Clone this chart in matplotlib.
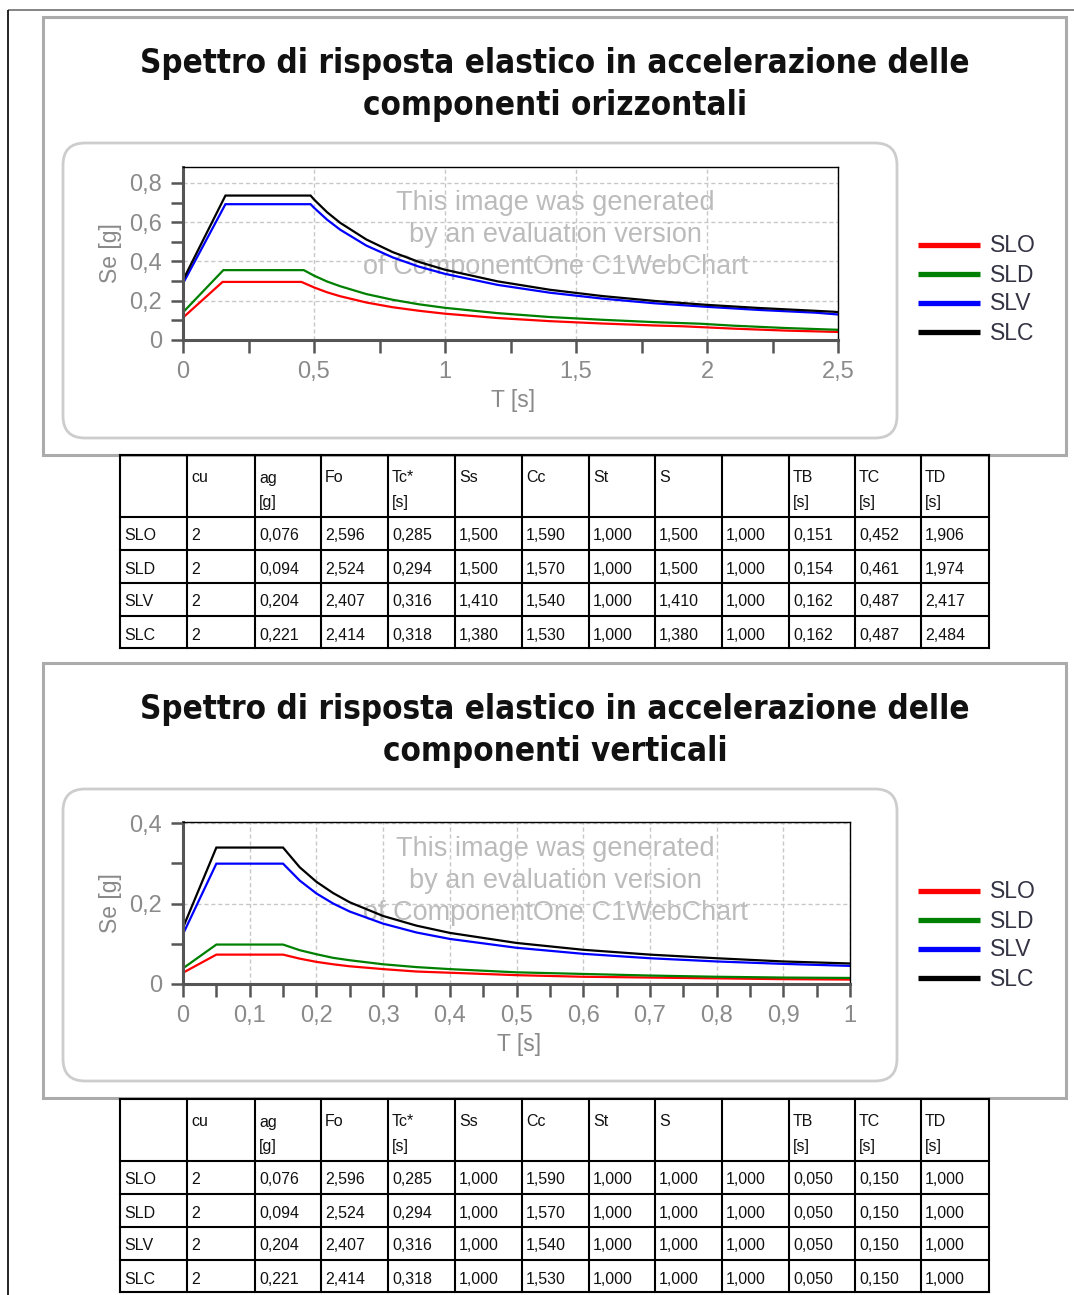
import matplotlib
matplotlib.use("Agg")
import matplotlib.pyplot as plt
from matplotlib.patches import FancyBboxPatch, Rectangle
from matplotlib.font_manager import FontProperties
from matplotlib.ticker import MultipleLocator, FuncFormatter

# ---------------- data ----------------
series_names = ["SLO", "SLD", "SLV", "SLC"]
series_colors = ["#ff0000", "#008000", "#0000ff", "#000000"]

# horizontal components (T [s], Se [g])
T_h_SLO = [0, 0.151, 0.452, 0.5, 0.55, 0.6, 0.7, 0.8, 0.9, 1.0, 1.2, 1.4, 1.6, 1.8, 1.906, 2.1, 2.3, 2.5]
Se_h_SLO = [0.114, 0.296, 0.296, 0.268, 0.243, 0.223, 0.191, 0.167, 0.149, 0.134, 0.112, 0.096, 0.084, 0.074, 0.070, 0.058, 0.048, 0.041]
T_h_SLD = [0, 0.154, 0.461, 0.5, 0.55, 0.6, 0.7, 0.8, 0.9, 1.0, 1.2, 1.4, 1.6, 1.8, 1.974, 2.1, 2.3, 2.5]
Se_h_SLD = [0.141, 0.356, 0.356, 0.328, 0.298, 0.274, 0.234, 0.205, 0.182, 0.164, 0.137, 0.117, 0.103, 0.091, 0.083, 0.073, 0.061, 0.052]
T_h_SLV = [0, 0.162, 0.487, 0.5, 0.55, 0.6, 0.7, 0.8, 0.9, 1.0, 1.2, 1.4, 1.6, 1.8, 2.0, 2.2, 2.417, 2.5]
Se_h_SLV = [0.288, 0.692, 0.692, 0.674, 0.613, 0.562, 0.481, 0.421, 0.374, 0.337, 0.281, 0.241, 0.211, 0.187, 0.169, 0.153, 0.139, 0.130]
T_h_SLC = [0, 0.162, 0.487, 0.5, 0.55, 0.6, 0.7, 0.8, 0.9, 1.0, 1.2, 1.4, 1.6, 1.8, 2.0, 2.2, 2.484, 2.5]
Se_h_SLC = [0.305, 0.736, 0.736, 0.716, 0.651, 0.597, 0.512, 0.448, 0.398, 0.358, 0.299, 0.256, 0.224, 0.199, 0.179, 0.163, 0.144, 0.142]

# vertical components
T_v = [0, 0.05, 0.15, 0.175, 0.2, 0.225, 0.25, 0.3, 0.35, 0.4, 0.5, 0.6, 0.7, 0.8, 0.9, 1.0]
Se_v_SLO = [0.028, 0.073, 0.073, 0.063, 0.055, 0.049, 0.044, 0.037, 0.031, 0.028, 0.022, 0.018, 0.016, 0.014, 0.012, 0.011]
Se_v_SLD = [0.039, 0.098, 0.098, 0.084, 0.074, 0.065, 0.059, 0.049, 0.042, 0.037, 0.029, 0.025, 0.021, 0.018, 0.016, 0.015]
Se_v_SLV = [0.124, 0.299, 0.299, 0.257, 0.225, 0.200, 0.180, 0.150, 0.128, 0.112, 0.090, 0.075, 0.064, 0.056, 0.050, 0.045]
Se_v_SLC = [0.140, 0.339, 0.339, 0.290, 0.254, 0.226, 0.203, 0.169, 0.145, 0.127, 0.102, 0.085, 0.073, 0.064, 0.056, 0.051]

# tables
table_header = ["", "cu", "ag\n[g]", "Fo", "Tc*\n[s]", "Ss", "Cc", "St", "S", "", "TB\n[s]", "TC\n[s]", "TD\n[s]"]
cu = ["2", "2", "2", "2"]
ag = ["0,076", "0,094", "0,204", "0,221"]
Fo = ["2,596", "2,524", "2,407", "2,414"]
Tc_star = ["0,285", "0,294", "0,316", "0,318"]
Cc = ["1,590", "1,570", "1,540", "1,530"]
St = ["1,000", "1,000", "1,000", "1,000"]
eta = ["1,000", "1,000", "1,000", "1,000"]
Ss_h = ["1,500", "1,500", "1,410", "1,380"]
S_h = ["1,500", "1,500", "1,410", "1,380"]
TB_h = ["0,151", "0,154", "0,162", "0,162"]
TC_h = ["0,452", "0,461", "0,487", "0,487"]
TD_h = ["1,906", "1,974", "2,417", "2,484"]
Ss_v = ["1,000", "1,000", "1,000", "1,000"]
S_v = ["1,000", "1,000", "1,000", "1,000"]
TB_v = ["0,050", "0,050", "0,050", "0,050"]
TC_v = ["0,150", "0,150", "0,150", "0,150"]
TD_v = ["1,000", "1,000", "1,000", "1,000"]

title_h = "Spettro di risposta elastico in accelerazione delle\ncomponenti orizzontali"
title_v = "Spettro di risposta elastico in accelerazione delle\ncomponenti verticali"
watermark = ["This image was generated", "by an evaluation version", "of ComponentOne C1WebChart"]

# ---------------- layout ----------------
W, H = 1074, 1295
fig = plt.figure(figsize=(W / 100, H / 100), dpi=100)
fig.patch.set_facecolor("white")

bg = fig.add_axes([0, 0, 1, 1])
bg.set_xlim(0, W)
bg.set_ylim(H, 0)
bg.axis("off")

def px_axes(x0, y0, x1, y1):
    return fig.add_axes([x0 / W, 1 - y1 / H, (x1 - x0) / W, (y1 - y0) / H])

# outer frame of page
bg.plot([8, W], [10, 10], color="#707070", lw=1.2, solid_capstyle="butt")
bg.plot([8, 8], [10, H], color="#000000", lw=1.2, solid_capstyle="butt")

renderer = fig.canvas.get_renderer()
fp_title = FontProperties(family="DejaVu Sans", weight="bold", stretch="condensed", size=20)
tmp = bg.text(0, 0, "Spettro di risposta elastico in accelerazione delle", fontproperties=fp_title)
wpx = tmp.get_window_extent(renderer=renderer).width
tmp.remove()
title_size = 20 * 830 / wpx

tick_color = "#555555"
label_color = "#8a8a8a"
fmt = FuncFormatter(lambda v, p: ("%g" % round(v, 3)).replace(".", ","))


def panel(top, bottom, title, plot_box, xmax, xmaj, xmin, ytop, ymaj, ymin_step, curves, table_top, cols):
    # panel frame
    bg.add_patch(Rectangle((43, top), 1066 - 43, bottom - top, fill=False, ec="#ababab", lw=2.2))
    # title
    t1, t2 = title.split("\n")
    fpt = FontProperties(family="DejaVu Sans", weight="bold", stretch="condensed", size=title_size)
    bg.text(555, top + 47, t1, fontproperties=fpt, ha="center", va="center", color="#111111")
    bg.text(555, top + 88, t2, fontproperties=fpt, ha="center", va="center", color="#111111")
    # inner rounded rect
    bg.add_patch(FancyBboxPatch((63, top + 126), 897 - 63, (bottom - 17) - (top + 126),
                                boxstyle="round,pad=0,rounding_size=22", fill=False,
                                ec="#cdcdcd", lw=2.0))
    x0, y0, x1, y1 = plot_box
    ax = px_axes(x0, y0, x1, y1)
    ax.set_facecolor("none")
    for name, col, (tx, sy) in zip(series_names, series_colors, curves):
        ax.plot(tx, sy, color=col, lw=1.6, solid_joinstyle="miter")
    ax.set_xlim(0, xmax)
    ax.set_ylim(0, ytop)
    ax.xaxis.set_major_locator(MultipleLocator(xmaj))
    ax.xaxis.set_minor_locator(MultipleLocator(xmin))
    ax.yaxis.set_major_locator(MultipleLocator(ymaj))
    ax.yaxis.set_minor_locator(MultipleLocator(ymin_step))
    ax.xaxis.set_major_formatter(fmt)
    ax.yaxis.set_major_formatter(fmt)
    ax.grid(True, which="major", color="#c8c8c8", ls=(0, (3, 2)), lw=1.0)
    ax.tick_params(which="both", direction="out", length=9, width=1.8, color=tick_color,
                   labelsize=17, labelcolor=label_color, pad=6)
    for s in ("left", "bottom"):
        ax.spines[s].set_color(tick_color)
        ax.spines[s].set_linewidth(2.2)
    for s in ("top", "right"):
        ax.spines[s].set_color("#000000")
        ax.spines[s].set_linewidth(1.0)
    for lab in ax.get_xticklabels() + ax.get_yticklabels():
        lab.set_family("Liberation Sans")
    # axis titles
    bg.text(110, (y0 + y1) / 2, "Se [g]", rotation=90, ha="center", va="center",
            fontsize=16.5, color=label_color, family="Liberation Sans")
    bg.text((x0 + x1) / 2 + 3, y1 + 60, "T [s]", ha="center", va="center",
            fontsize=16.5, color=label_color, family="Liberation Sans")
    # watermark
    for i, line in enumerate(watermark):
        bg.text(555, top + 186 + i * 32, line, ha="center", va="center", fontsize=19.5,
                color="#b0b0b0", alpha=0.85, family="Liberation Sans", zorder=20)
    # legend
    for i, (name, col) in enumerate(zip(series_names, series_colors)):
        yy = top + 228 + i * 29
        bg.plot([918, 980], [yy, yy], color=col, lw=3.8, solid_capstyle="butt")
        bg.text(990, yy + 1, name, ha="left", va="center", fontsize=16.5,
                color="#333344", family="Liberation Sans")
    # table
    xs = [120, 187, 255, 321, 388, 455, 522, 589, 655, 722, 789, 855, 921, 989]
    ys = [table_top, table_top + 62, table_top + 95, table_top + 128, table_top + 161, table_top + 193]
    for x in xs:
        bg.plot([x, x], [ys[0], ys[-1]], color="#000000", lw=1.5)
    for y in ys:
        bg.plot([xs[0], xs[-1]], [y, y], color="#000000", lw=1.5)
    for j, hdr in enumerate(table_header):
        for k, part in enumerate(hdr.split("\n")):
            if part:
                bg.text(xs[j] + 4, ys[0] + 23 + 25 * k, part, ha="left", va="center",
                        fontsize=11.5, color="#111111", family="Liberation Sans")
    rows = [series_names] + cols
    for r in range(4):
        for j, col_vals in enumerate(rows):
            bg.text(xs[j] + 4, ys[r + 1] + 19, col_vals[r], ha="left", va="center",
                    fontsize=11.5, color="#111111", family="Liberation Sans")
    return ax


panel(17, 455, title_h, (183, 167, 838, 340), 2.5, 0.5, 0.25, 0.8815, 0.2, 0.1,
      [(T_h_SLO, Se_h_SLO), (T_h_SLD, Se_h_SLD), (T_h_SLV, Se_h_SLV), (T_h_SLC, Se_h_SLC)],
      455, [cu, ag, Fo, Tc_star, Ss_h, Cc, St, S_h, eta, TB_h, TC_h, TD_h])

panel(663, 1098, title_v, (183, 822, 850, 984), 1.0, 0.1, 0.05, 0.4025, 0.2, 0.1,
      [(T_v, Se_v_SLO), (T_v, Se_v_SLD), (T_v, Se_v_SLV), (T_v, Se_v_SLC)],
      1099, [cu, ag, Fo, Tc_star, Ss_v, Cc, St, S_v, eta, TB_v, TC_v, TD_v])

fig.savefig("out.png", dpi=100, facecolor="white")
